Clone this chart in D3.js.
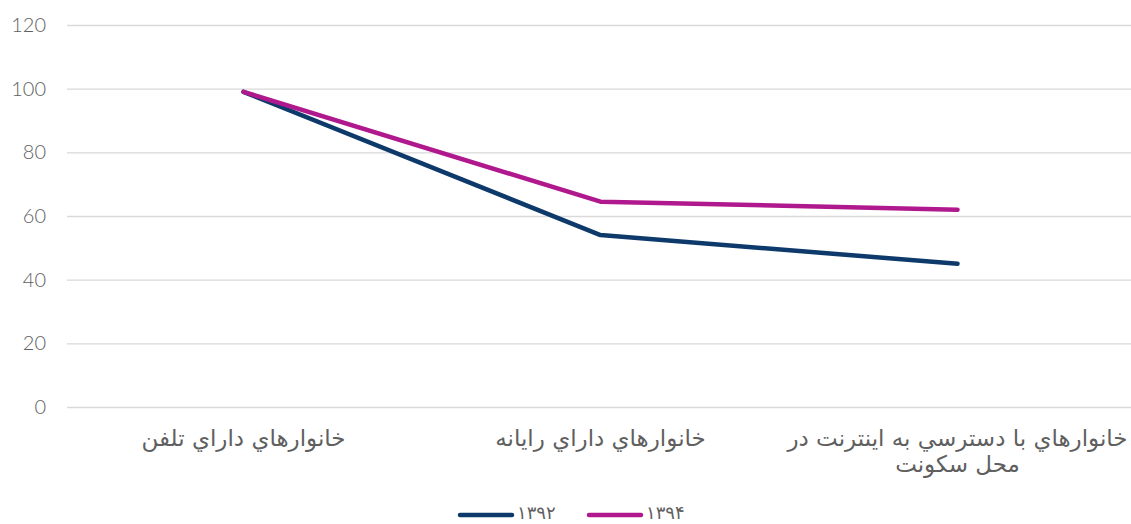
<!DOCTYPE html>
<html>
<head>
<meta charset="utf-8">
<script src="https://cdn.jsdelivr.net/npm/d3@7"></script>
<style>
body { margin: 0; background: #fff; }
text { font-family: "DejaVu Sans", sans-serif; fill: #5f5f5f; }
</style>
</head>
<body>
<svg></svg>
<script>
var categories = ["خانوارهاي داراي تلفن", "خانوارهاي داراي رايانه", "خانوارهاي با دسترسي به اينترنت در|محل سكونت"];
var seriesNames = ["۱۳۹۲", "۱۳۹۴"];
var values1392 = [99, 54, 45];
var values1394 = [99, 64.5, 62];
var yTicks = [0, 20, 40, 60, 80, 100, 120];
var colors = ["#0e3a6b", "#b0188e"];

var svgWidth = 1131, svgHeight = 524;
var margin = {top: 25, right: -5, bottom: 117, left: 65};
var w = svgWidth - margin.left - margin.right, h = svgHeight - margin.top - margin.bottom;

var svg = d3.select('svg')
    .attr('width', svgWidth)
    .attr('height', svgHeight);

var g = svg.append('g').attr('transform', 'translate(' + margin.left + ',' + margin.top + ')');

var x = d3.scaleBand().domain(categories).range([0, w]);
var y = d3.scaleLinear().domain([0, 120]).range([h, 0]);

// grid + y labels
var yAxis = g.append('g')
    .call(d3.axisLeft(y).tickValues(yTicks).tickSize(-(w - 7)).tickPadding(19));
yAxis.select('.domain').remove();
yAxis.selectAll('.tick line').attr('stroke', '#d9d9d9').attr('stroke-width', 1.3).attr('transform', 'translate(2,0)');
yAxis.selectAll('.tick text').attr('font-size', '20px').attr('fill', '#6e6e6e')
    .style('font-family', 'Lato, sans-serif').style('font-weight', 300);

// category labels
g.selectAll('.cat')
    .data(categories)
    .enter()
    .append('text')
    .attr('class', 'cat')
    .attr('text-anchor', 'middle')
    .attr('font-size', '23px')
    .attr('direction', 'rtl')
    .attr('x', function(d) { return x(d) + x.bandwidth() / 2; })
    .attr('y', h + 39)
    .each(function(d) {
        var parts = d.split('|');
        var t = d3.select(this);
        parts.forEach(function(p, i) {
            t.append('tspan')
                .attr('x', x(d) + x.bandwidth() / 2)
                .attr('dy', i === 0 ? 0 : 26)
                .text(p);
        });
    });

var line = d3.line()
    .x(function(d, i) { return x(categories[i]) + x.bandwidth() / 2; })
    .y(function(d) { return y(d); });

[values1392, values1394].forEach(function(vals, i) {
    g.append('path')
        .datum(vals)
        .attr('fill', 'none')
        .attr('stroke', colors[i])
        .attr('stroke-width', 4.5)
        .attr('stroke-linecap', 'round')
        .attr('stroke-linejoin', 'round')
        .attr('d', line);
});

// legend
var legend = svg.append('g').attr('transform', 'translate(460,515)');
seriesNames.forEach(function(name, i) {
    var lg = legend.append('g').attr('transform', 'translate(' + (i * 129) + ',0)');
    lg.append('line')
        .attr('x1', 0).attr('x2', 52)
        .attr('y1', 0).attr('y2', 0)
        .attr('stroke', colors[i])
        .attr('stroke-width', 4.5)
        .attr('stroke-linecap', 'round');
    lg.append('text')
        .attr('x', 57)
        .attr('y', 4)
        .attr('font-size', '18px')
        .attr('letter-spacing', '3px')
        .text(name);
});
</script>
</body>
</html>
